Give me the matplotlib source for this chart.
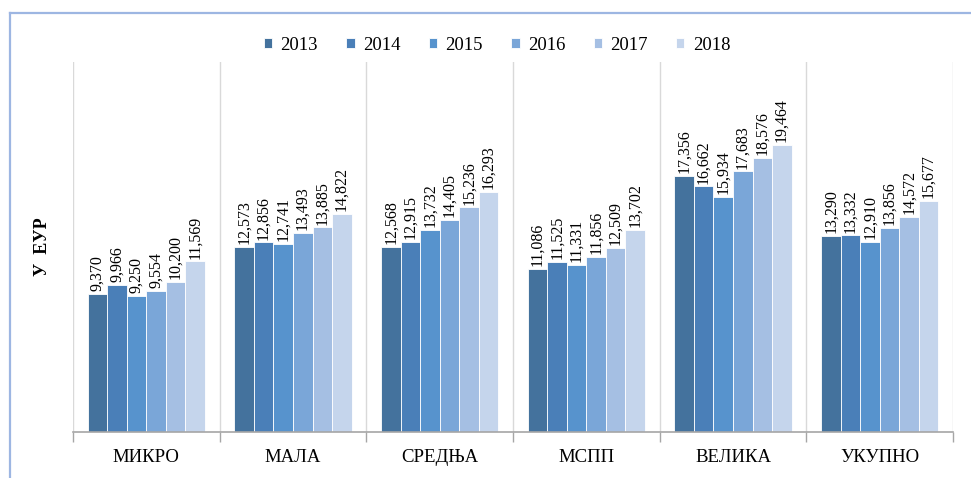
import numpy as np
import matplotlib.pyplot as plt
from matplotlib.lines import Line2D

plt.rcParams['font.family'] = ['Liberation Serif', 'DejaVu Serif']

categories = ['МИКРО', 'МАЛА', 'СРЕДЊА', 'МСПП', 'ВЕЛИКА', 'УКУПНО']
years = ['2013', '2014', '2015', '2016', '2017', '2018']
values = {
    '2013': [9370, 12573, 12568, 11086, 17356, 13290],
    '2014': [9966, 12856, 12915, 11525, 16662, 13332],
    '2015': [9250, 12741, 13732, 11331, 15934, 12910],
    '2016': [9554, 13493, 14405, 11856, 17683, 13856],
    '2017': [10200, 13885, 15236, 12509, 18576, 14572],
    '2018': [11569, 14822, 16293, 13702, 19464, 15677],
}
colors = ['#44729d', '#4a7fb8', '#5793cd', '#7aa6d8', '#a5bfe3', '#c5d5ec']

fig = plt.figure(figsize=(9.71, 4.78), dpi=100)
ax = fig.add_axes([73/971, 1 - 432/478, 880/971, 370/478])

x = np.arange(len(categories))
barW = 0.133
for i, yr in enumerate(years):
    pos = x + (i - 2.5) * barW
    ax.bar(pos, values[yr], barW, color=colors[i], edgecolor='white', linewidth=0.6, label=yr, zorder=2)
    for px, v in zip(pos, values[yr]):
        ax.annotate(f'{v:,}', (px, v), xytext=(0, 2), textcoords='offset points',
                    rotation=90, ha='center', va='bottom', fontsize=11.5)

ax.set_xlim(-0.5, len(categories) - 0.5)
ax.set_ylim(0, 25100)
ax.set_xticks(x)
ax.set_xticklabels(categories, fontsize=13.5)
ax.set_xticks(np.arange(-0.5, len(categories)), minor=True)
ax.tick_params(axis='x', which='major', length=0, pad=12)
ax.tick_params(axis='x', which='minor', length=7, color='#a6a6a6', width=1)
ax.set_yticks([])
ax.grid(axis='x', which='minor', color='#d9d9d9', linewidth=1, zorder=0)
for s in ['top', 'right', 'left']:
    ax.spines[s].set_visible(False)
ax.spines['bottom'].set_color('#a6a6a6')
ax.spines['bottom'].set_linewidth(1.2)

ax.set_ylabel('У  ЕУР', fontsize=13, fontweight='bold', labelpad=16)

leg = fig.legend(*ax.get_legend_handles_labels(), loc='center', bbox_to_anchor=(497/971, 1 - 45/478),
                 ncol=6, frameon=False, fontsize=13.5, handlelength=0.45, handleheight=0.45,
                 columnspacing=1.5, handletextpad=0.45)

# outer frame (top and left edges)
fig.add_artist(Line2D([10/971, 1], [1 - 13/478, 1 - 13/478], color='#9db6e2', linewidth=1.6, transform=fig.transFigure))
fig.add_artist(Line2D([10/971, 10/971], [0, 1 - 13/478], color='#9db6e2', linewidth=1.6, transform=fig.transFigure))

fig.savefig('out.png', dpi=100)
